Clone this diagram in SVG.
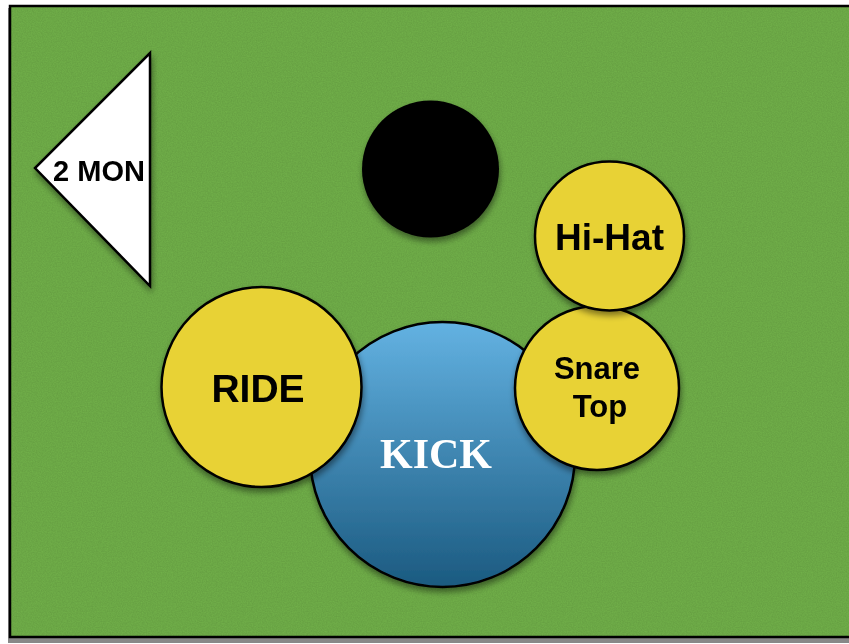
<svg xmlns="http://www.w3.org/2000/svg" width="849" height="644" viewBox="0 0 849 644">
<defs>
<linearGradient id="kickGrad" x1="0" y1="0" x2="0" y2="1">
<stop offset="0" stop-color="#63b2e2"/>
<stop offset="1" stop-color="#1b5a80"/>
</linearGradient>
<filter id="shadow" x="-20%" y="-20%" width="140%" height="150%">
<feGaussianBlur in="SourceAlpha" stdDeviation="3"/>
<feOffset dx="1" dy="4" result="b"/>
<feComponentTransfer><feFuncA type="linear" slope="0.45"/></feComponentTransfer>
<feMerge><feMergeNode/><feMergeNode in="SourceGraphic"/></feMerge>
</filter>
<filter id="noise" x="0" y="0" width="100%" height="100%">
<feTurbulence type="fractalNoise" baseFrequency="0.8" numOctaves="2" seed="3" result="n"/>
<feColorMatrix in="n" type="matrix" values="0 0 0 0 0  0 0 0 0 0  0 0 0 0 0  0 0 0 0.12 0"/>
<feComposite in2="SourceGraphic" operator="in"/>
</filter>
</defs>
<style>
.yel{fill:#e8d234;stroke:#000;stroke-width:2.5}
.lbl{font-family:"Liberation Sans",Arial,sans-serif;font-weight:bold;fill:#000;text-anchor:middle}
</style>
<rect width="849" height="644" fill="#ffffff"/>
<g id="stage">
<rect x="8" y="8" width="850" height="635" fill="#555" opacity="0.7"/>
<rect x="10" y="6" width="845" height="631" fill="#72b24a" stroke="#000" stroke-width="2.5"/>
<rect x="11" y="7" width="843" height="629" fill="#000" filter="url(#noise)"/>
</g>
<g id="monitor" filter="url(#shadow)">
<polygon points="150,53 150,286 35,168" fill="#fff" stroke="#000" stroke-width="2.5" stroke-linejoin="miter"/>
<text class="lbl" x="99" y="181" font-size="29">2 MON</text>
</g>
<g id="floor-tom" filter="url(#shadow)">
<circle cx="430.5" cy="169" r="68.5" fill="#000"/>
</g>
<g id="kick" filter="url(#shadow)">
<circle cx="442.5" cy="454.5" r="132.5" fill="url(#kickGrad)" stroke="#000" stroke-width="2.5"/>
<text x="436" y="468" font-size="42" font-family="'Liberation Serif','Times New Roman',serif" font-weight="bold" fill="#fff" text-anchor="middle">KICK</text>
</g>
<g id="ride" filter="url(#shadow)">
<circle cx="261.5" cy="387" r="100" class="yel"/>
<text class="lbl" x="258" y="402" font-size="39">RIDE</text>
</g>
<g id="snare" filter="url(#shadow)">
<circle cx="597" cy="388" r="82" class="yel"/>
<text class="lbl" x="597" y="379" font-size="31">Snare</text>
<text class="lbl" x="600" y="417" font-size="31">Top</text>
</g>
<g id="hihat" filter="url(#shadow)">
<circle cx="609.5" cy="236" r="74.5" class="yel"/>
<text class="lbl" x="609.5" y="250" font-size="37">Hi-Hat</text>
</g>
<g id="connectors"/>
</svg>
